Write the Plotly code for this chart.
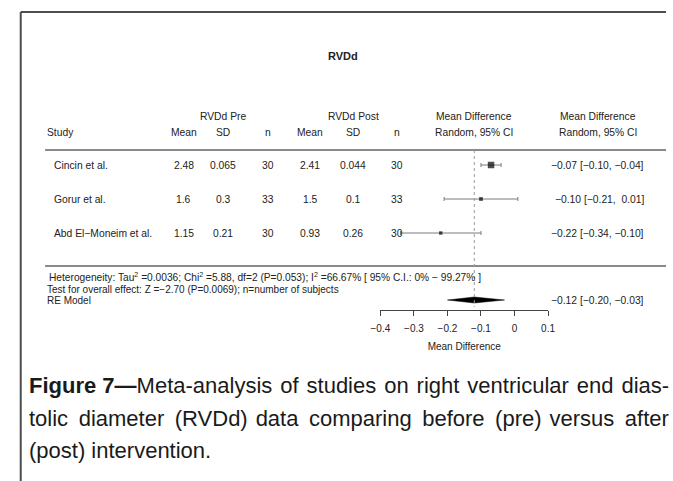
import math
import plotly.graph_objects as go

W, H = 673, 481

# ---- study data -------------------------------------------------------------
studies = ["Cincin et al.", "Gorur et al.", "Abd El\u2212Moneim et al."]
pre_mean = [2.48, 1.6, 1.15]
pre_sd = [0.065, 0.3, 0.21]
pre_n = [30, 33, 30]
post_mean = [2.41, 1.5, 0.93]
post_sd = [0.044, 0.1, 0.26]
post_n = [30, 33, 30]

md = [-0.07, -0.10, -0.22]
ci_lo = [-0.10, -0.21, -0.34]
ci_hi = [-0.04, 0.01, -0.10]

pooled = -0.12
pooled_lo = -0.20
pooled_hi = -0.03
tau2 = 0.0036

x_ticks = [-0.4, -0.3, -0.2, -0.1, 0, 0.1]

# ---- layout helpers (pixel -> paper) ----------------------------------------
def px(x):
    return x / W


AXIS_Y = 310          # pixel row of the x-axis line
X_LEFT, X_RIGHT = 380, 552
row_y = [165, 199, 233]
re_y = 300

FONT = "Liberation Sans, Arial, Helvetica, sans-serif"
TXT = "#222222"
TS = 10.3             # table text size


def fmt(v):
    s = f"{v:.2f}"
    return s.replace("-", "\u2212") if v < 0 else "\u00a0" + s


def ci_text(m, lo, hi):
    return f"{fmt(m)} [{fmt(lo)}, {fmt(hi)}]".replace("[\u00a0", "[").lstrip("\u00a0")


# random-effects weights -> marker sizes
se = [math.sqrt(a ** 2 / na + b ** 2 / nb)
      for a, b, na, nb in zip(pre_sd, post_sd, pre_n, post_n)]
w = [1 / (s ** 2 + tau2) for s in se]
sizes = [6.5 * wi / max(w) for wi in w]

fig = go.Figure()

# study estimates with confidence intervals
fig.add_trace(go.Scatter(
    x=md, y=row_y, mode="markers",
    marker=dict(symbol="square", size=sizes, color="black", line=dict(width=0)),
    error_x=dict(type="data", symmetric=False,
                 array=[h - m for h, m in zip(ci_hi, md)],
                 arrayminus=[m - l for m, l in zip(md, ci_lo)],
                 color="#7a7a7a", thickness=1, width=2),
    hoverinfo="skip", showlegend=False, cliponaxis=False,
))

# pooled random-effects diamond
fig.add_trace(go.Scatter(
    x=[pooled_lo, pooled, pooled_hi, pooled, pooled_lo],
    y=[re_y, re_y - 3, re_y, re_y + 3, re_y],
    mode="lines", fill="toself", fillcolor="black",
    line=dict(color="black", width=0.5),
    hoverinfo="skip", showlegend=False,
))

shapes = [
    # frame
    dict(type="line", xref="paper", yref="paper", x0=px(11), x1=1.0,
         y0=1 - 12 / H, y1=1 - 12 / H, line=dict(color="#4d4d4d", width=2)),
    dict(type="line", xref="paper", yref="paper", x0=px(11), x1=px(11),
         y0=0, y1=1 - 12 / H, line=dict(color="#4d4d4d", width=2)),
    # table rules
    dict(type="line", xref="paper", yref="y", x0=px(36), x1=1.0,
         y0=150, y1=150, line=dict(color="#8a8a8a", width=2)),
    dict(type="line", xref="paper", yref="y", x0=px(36), x1=1.0,
         y0=266, y1=266, line=dict(color="#8a8a8a", width=2)),
    # reference line at pooled estimate
    dict(type="line", xref="x", yref="y", x0=pooled, x1=pooled,
         y0=150, y1=AXIS_Y - 3, line=dict(color="#999999", width=1, dash="dot")),
]

ann = []


def text(x, y, s, size=TS, anchor="center", bold=False, color=TXT):
    ann.append(dict(
        x=px(x), y=y, xref="paper", yref="y", text=f"<b>{s}</b>" if bold else s,
        showarrow=False, xanchor=anchor, yanchor="middle",
        font=dict(family=FONT, size=size, color=color)))


# title
text(342, 56, "RVDd", size=11, bold=True)

# column headers
cols = [178, 219, 265, 308, 352, 397]
text(cols[1], 116, "RVDd Pre")
text(cols[4], 116, "RVDd Post")
text(476, 116, "Mean Difference")
text(603, 116, "Mean Difference")
text(36, 132, "Study", anchor="left")
for c, lab in zip(cols, ["Mean", "SD", "n", "Mean", "SD", "n"]):
    text(c, 132, lab)
text(476, 132, "Random, 95% CI")
text(603, 132, "Random, 95% CI")

# study rows
for i, y in enumerate(row_y):
    text(43, y, studies[i], anchor="left")
    vals = [pre_mean[i], pre_sd[i], pre_n[i], post_mean[i], post_sd[i], post_n[i]]
    for c, v in zip(cols, vals):
        text(c, y, str(v))
    text(652, y, ci_text(md[i], ci_lo[i], ci_hi[i]), anchor="right")

# summary block
text(38, 277, "Heterogeneity: Tau<sup>2</sup> =0.0036; Chi<sup>2</sup> =5.88, df=2 (P=0.053); "
     "I<sup>2</sup> =66.67% [ 95% C.I.: 0% \u2212 99.27% ]", size=10.2, anchor="left")
text(36, 289, "Test for overall effect: Z =\u22122.70 (P=0.0069); n=number of subjects",
     size=10, anchor="left")
text(36, re_y, "RE Model", size=10, anchor="left")
text(652, re_y, ci_text(pooled, pooled_lo, pooled_hi), anchor="right")

# ---- caption (extra hair / thin spaces spread the lines to full width) -----
HAIR, THIN = "\u200a", "\u2009"
line1 = ("<b>Figure 7\u2014</b>"
         + HAIR.join(w_ + " " for w_ in
                     "Meta-analysis of studies on right ventricular end".split())
         + HAIR + "dias-")
line2_words = "tolic diameter (RVDd) data comparing before (pre) versus after".split()
line2_gaps = [THIN, THIN, HAIR, THIN, THIN, THIN, HAIR, THIN]
line2 = line2_words[0] + "".join(" " + g + wd for g, wd in zip(line2_gaps, line2_words[1:]))
cap_lines = [line1, line2, "(post) intervention."]
for line, yy in zip(cap_lines, [385, 418, 450]):
    ann.append(dict(x=px(20), y=1 - yy / H, xref="paper", yref="paper", text=line,
                    showarrow=False, xanchor="left", yanchor="middle",
                    borderpad=0, borderwidth=0,
                    font=dict(family=FONT, size=22, color="#1a1a1a")))

fig.update_layout(
    width=W, height=H, margin=dict(l=0, r=0, t=0, b=0),
    paper_bgcolor="white", plot_bgcolor="rgba(0,0,0,0)",
    shapes=shapes, annotations=ann,
    xaxis=dict(domain=[px(X_LEFT), px(X_RIGHT)], range=[-0.4, 0.1],
               showline=True, linecolor="#444", linewidth=1,
               ticks="outside", ticklen=5, tickcolor="#444", tickwidth=1,
               ticklabelstandoff=4,
               tickvals=x_ticks,
               ticktext=[("\u2212" + str(abs(t))) if t < 0 else str(t) for t in x_ticks],
               tickfont=dict(family=FONT, size=10, color=TXT),
               showgrid=False, zeroline=False, anchor="y",
               title=dict(text="Mean Difference", standoff=9,
                          font=dict(family=FONT, size=10, color=TXT))),
    yaxis=dict(domain=[1 - AXIS_Y / H, 1], range=[AXIS_Y, 0], visible=False,
               showgrid=False, zeroline=False),
)

fig.write_html("out.html")
